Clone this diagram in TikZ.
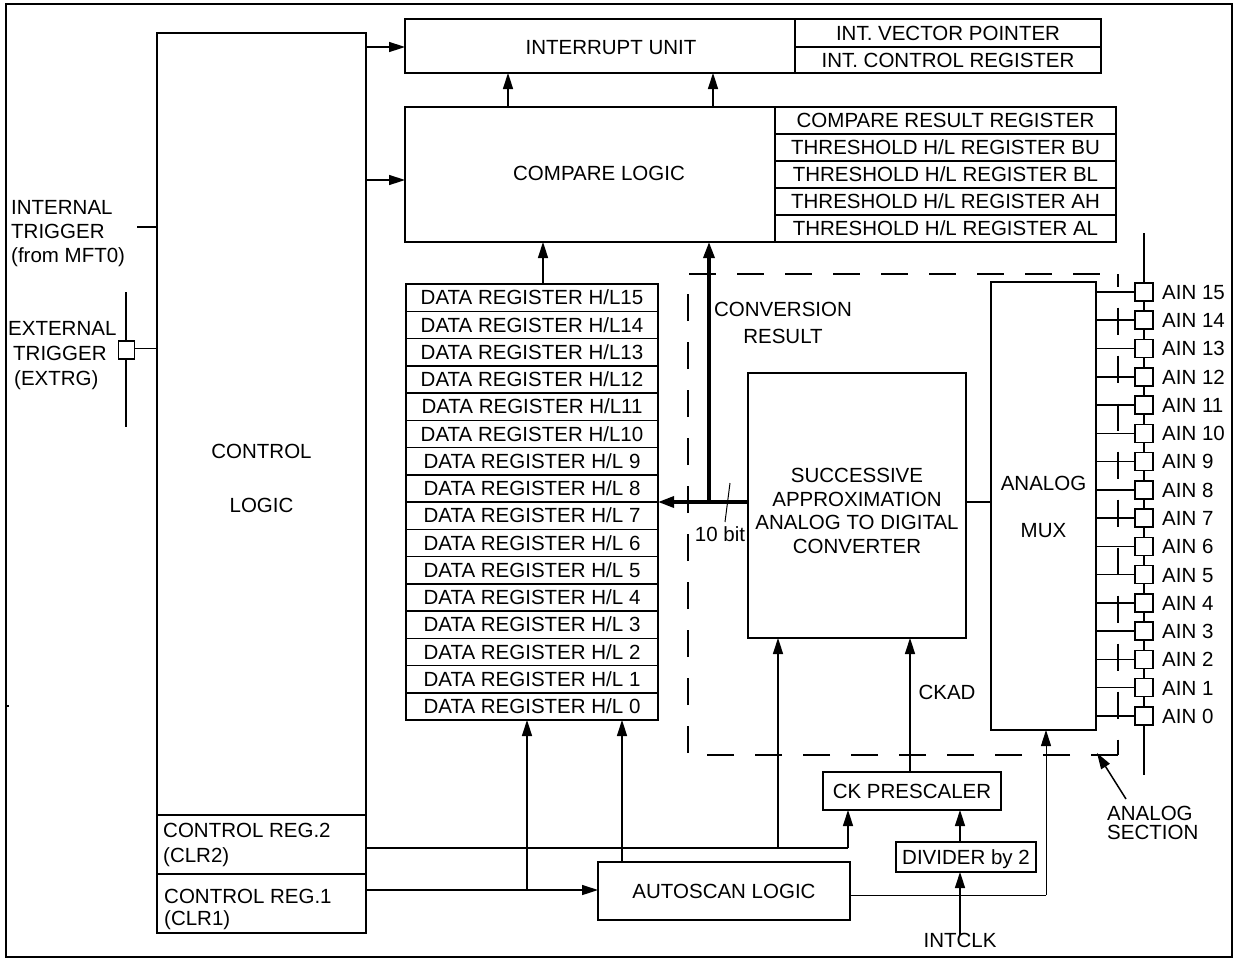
\documentclass[tikz,border=0pt]{standalone}
\usepackage{fontspec}
\setmainfont{Liberation Sans}
\usetikzlibrary{arrows.meta}
\begin{document}
\begin{tikzpicture}[x=1pt,y=-1pt,
  every node/.style={font=\fontsize{20.5}{24}\selectfont},
  box/.style={draw, line width=1.5pt, inner sep=0pt, outer sep=0pt, anchor=north west, text height=14.7pt, text depth=0pt},
  lbl/.style={inner sep=0pt, text height=14.7pt, text depth=0pt},
  blbl/.style={inner sep=0pt, anchor=base west},
  wire/.style={line width=1.5pt},
  thinwire/.style={line width=1pt},
  arr/.style={line width=1.5pt, -{Triangle[length=16pt,width=10pt]}},
  bus/.style={line width=3.3pt},
  section/.style={line width=1.5pt, dash pattern=on 27pt off 21pt},
  pinbox/.style={draw, fill=white, line width=1.5pt, minimum width=18pt, minimum height=18pt, inner sep=0pt, outer sep=0pt},
]
\useasboundingbox (0,0) rectangle (1239,959);
% frame
\draw[wire] (6,4) rectangle (1232,957);
\draw[wire] (6,706) -- (9,706);

% analog section (dashed)
\coordinate (sectl) at (688,274);
\coordinate (sectr) at (1118,274);
\coordinate (sebl) at (688,755);
\coordinate (sebr) at (1118,755);
\draw[section] (sebr) -- (sebl) -- (sectl) -- (sectr);
\draw[section, dash phase=14.5pt] (sectr) -- (sebr);

% control logic
\node[box, minimum width=209pt, minimum height=782pt] (ctrl) at (157,33) {};
\node[lbl] at (261.5,451) {CONTROL};
\node[lbl] at (261.5,505) {LOGIC};
\node[box, minimum width=209pt, minimum height=59pt] (clr2) at (157,815) {};
\node[blbl] at (163,837.5) {CONTROL REG.2};
\node[blbl] at (163,862.5) {(CLR2)};
\node[box, minimum width=209pt, minimum height=59pt] (clr1) at (157,874) {};
\node[blbl] at (164,903.5) {CONTROL REG.1};
\node[blbl] at (164,925.5) {(CLR1)};

% triggers
\node[inner sep=0pt, anchor=north west, align=left, font=\fontsize{20.5}{24}\selectfont] (inttrig) at (11,200.5) {INTERNAL\\TRIGGER\\(from MFT0)};
\coordinate (intend) at (137,227);
\draw[wire] (intend) -- (ctrl.west |- intend);
\node[blbl] at (8,335.5) {EXTERNAL};
\node[blbl] at (13,360.5) {TRIGGER};
\node[blbl] at (14,385.5) {(EXTRG)};
\coordinate (exttop) at (126,292);
\coordinate (extbot) at (126,427);
\draw[wire] (exttop) -- (extbot);
\node[pinbox, minimum width=16pt, minimum height=18pt] (extpin) at (126.5,350) {};
\draw[thinwire] (extpin.east |- 0,348) -- (ctrl.west |- 0,348);

% interrupt unit
\node[box, minimum width=390pt, minimum height=54pt] (iu) at (405,19) {};
\node[lbl] at (611,47) {INTERRUPT UNIT};
\node[box, minimum width=306pt, minimum height=28pt] (ivp) at (795,19) {INT. VECTOR POINTER};
\node[box, minimum width=306pt, minimum height=26pt] (icr) at (795,47) {INT. CONTROL REGISTER};

% compare logic
\node[box, minimum width=370pt, minimum height=135pt] (cl) at (405,107) {};
\node[lbl] at (599,173) {COMPARE LOGIC};
\node[box, minimum width=341pt, minimum height=27pt] (cr0) at (775,107) {COMPARE RESULT REGISTER};
\node[box, minimum width=341pt, minimum height=27pt] (cr1) at (775,134) {THRESHOLD H/L REGISTER BU};
\node[box, minimum width=341pt, minimum height=27pt] (cr2) at (775,161) {THRESHOLD H/L REGISTER BL};
\node[box, minimum width=341pt, minimum height=27pt] (cr3) at (775,188) {THRESHOLD H/L REGISTER AH};
\node[box, minimum width=341pt, minimum height=27pt] (cr4) at (775,215) {THRESHOLD H/L REGISTER AL};

% data registers
\foreach \n [count=\k from 0] in {15,14,13,12,11,10,9,8,7,6,5,4,3,2,1,0}
  \node[box, minimum width=252pt, minimum height=27.25pt] (dr\n) at (406,{284+27.25*\k})
    {DATA REGISTER H/L\ifnum\n>9 \n\else\ \n\fi};

% ADC
\node[box, minimum width=218pt, minimum height=265pt] (adc) at (748,373) {};
\node[inner sep=0pt, align=center, font=\fontsize{20.5}{23.5}\selectfont] at (857,511)
  {SUCCESSIVE\\APPROXIMATION\\ANALOG TO DIGITAL\\CONVERTER};

% analog mux
\node[box, minimum width=105pt, minimum height=448pt] (mux) at (991,282) {};
\node[lbl] at (1043.5,483) {ANALOG};
\node[lbl] at (1043.5,530) {MUX};

% conversion result
\node[inner sep=0pt, align=center, font=\fontsize{20.5}{27}\selectfont] at (783,322.5) {CONVERSION\\RESULT};
\coordinate (j) at (709,502);
\draw[bus] (adc.west |- j) -- (j);
\draw[bus, -{Triangle[length=16pt,width=11pt]}] (j) -- (dr8.south east);
\draw[bus, -{Triangle[length=16pt,width=11pt]}] (j) -- (cl.south -| j);
\coordinate (tka) at (730,483);
\coordinate (tkb) at (725,522);
\draw[thinwire] (tka) -- (tkb);
\node[lbl] at (720,534) {10 bit};

% ADC to mux
\draw[wire] (adc.east |- 0,502) -- (mux.west |- 0,502);

% AIN pins
\coordinate (aintop) at (1144,233);
\coordinate (ainbot) at (1144,775);
\draw[wire] (aintop) -- (ainbot);
\foreach \i in {0,...,15}{
  \pgfmathsetmacro\yy{716-\i*28.27}
  \node[pinbox] (ain\i) at (1144,\yy) {};
  \draw[wire] (mux.east |- ain\i) -- (ain\i.west);
  \node[lbl, anchor=west] at (1162,\yy) {AIN \i};
}

% internal arrows
\draw[arr] (ctrl.east |- 0,47) -- (iu.west |- 0,47);
\draw[arr] (ctrl.east |- 0,180) -- (cl.west |- 0,180);
\draw[arr] (cl.north -| 508,0) -- (iu.south -| 508,0);
\draw[arr] (cl.north -| 713,0) -- (iu.south -| 713,0);
\draw[arr] (dr15.north -| 543,0) -- (cl.south -| 543,0);

% bottom blocks
\node[box, minimum width=252pt, minimum height=58pt] (auto) at (598,862) {AUTOSCAN LOGIC};
\node[box, minimum width=178pt, minimum height=38pt] (pre) at (823,772) {CK PRESCALER};
\node[box, minimum width=140pt, minimum height=30pt] (div) at (896,842) {DIVIDER by 2};
\node[lbl] (intclk) at (960,940) {INTCLK};
\node[lbl] at (947,692) {CKAD};

% CLR2 line
\coordinate (c2a) at (778,848);
\coordinate (c2b) at (848,848);
\draw[wire] (clr2.east |- c2a) -- (c2b);
\draw[arr] (c2b) -- (pre.south -| c2b);
\draw[arr] (c2a) -- (adc.south -| c2a);
% CLR1 line
\coordinate (c1a) at (527,890);
\draw[arr] (clr1.east |- c1a) -- (auto.west |- c1a);
\draw[arr] (c1a) -- (dr0.south -| c1a);
\draw[arr] (auto.north -| 622,0) -- (dr0.south -| 622,0);
% autoscan to mux
\coordinate (am) at (1046,895);
\draw[thinwire] (auto.east |- am) -- (am);
\draw[thinwire, -{Triangle[length=16pt,width=10pt]}] (am) -- (mux.south -| am);
% clock
\draw[arr] (pre.north -| 910,0) -- (adc.south -| 910,0);
\draw[arr] (div.north -| 960,0) -- (pre.south -| 960,0);
\draw[arr] ([yshift=-3pt]intclk.north) -- (div.south -| intclk.north);

% analog section label
\node[inner sep=0pt, anchor=north west, align=left, font=\fontsize{20.5}{19.5}\selectfont] (asec) at (1107,805.5) {ANALOG\\SECTION};
\coordinate (astail) at (1126,799);
\coordinate (astip) at (1097,753);
\draw[arr] (astail) -- (astip);
\end{tikzpicture}
\end{document}
